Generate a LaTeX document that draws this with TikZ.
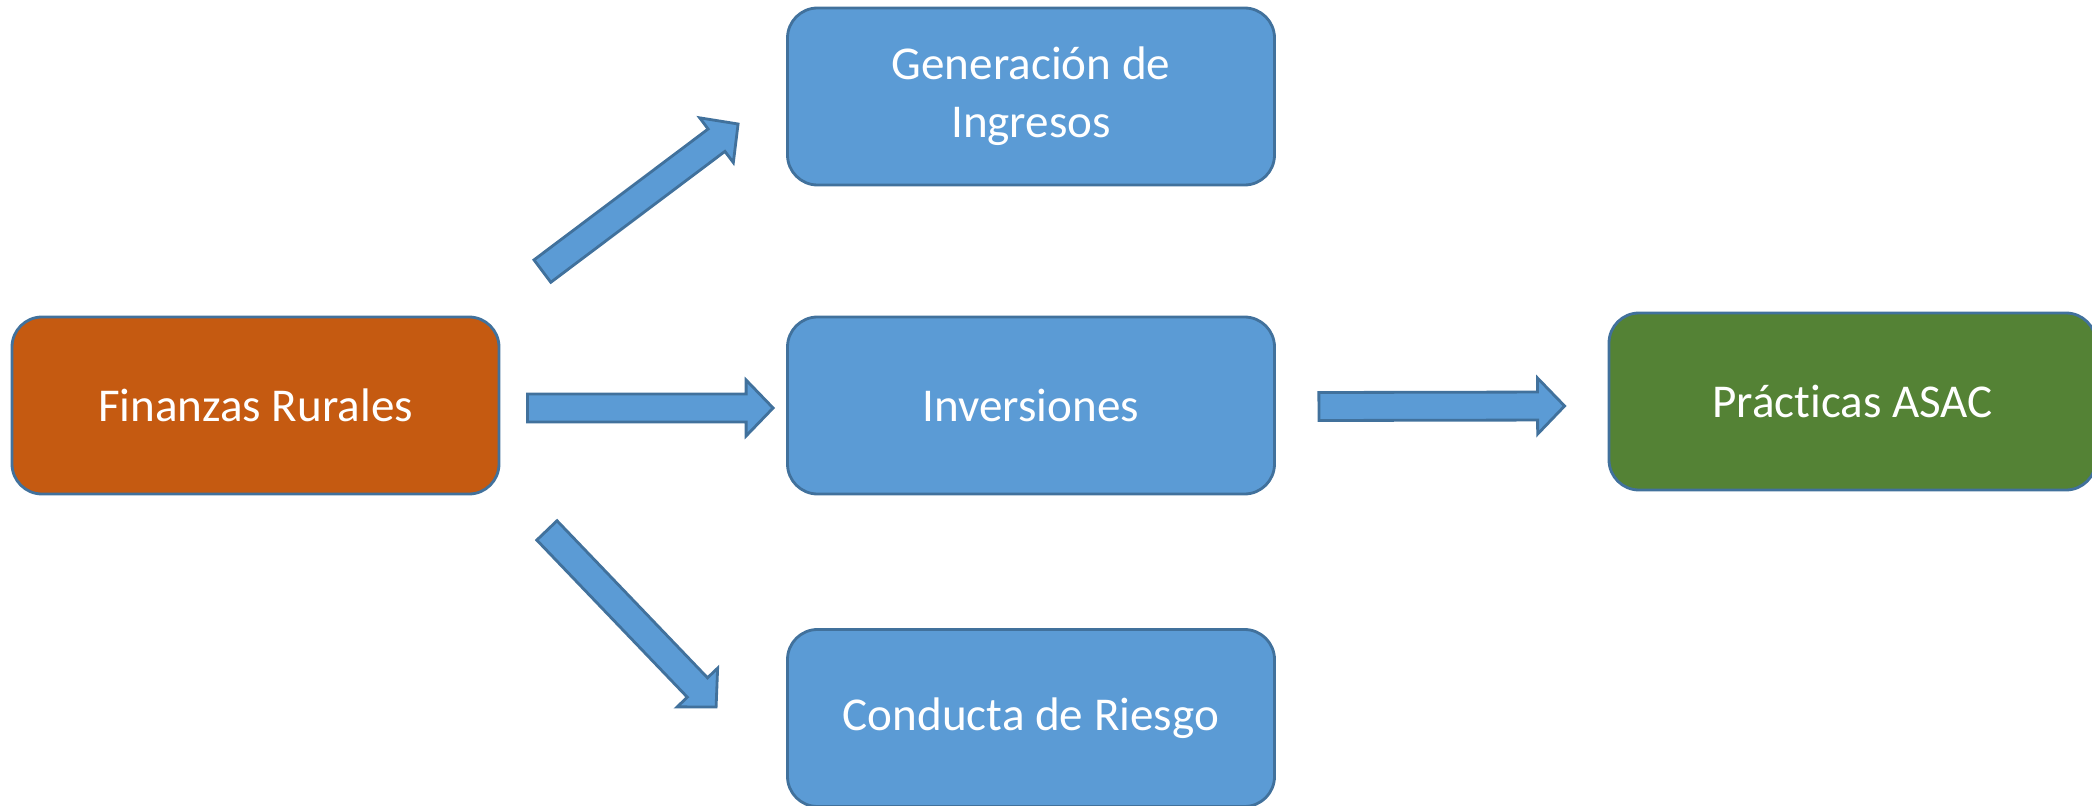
\documentclass[tikz,border=0pt]{standalone}
\usepackage{fontspec}
\setmainfont[Ligatures=CommonOff]{Carlito}
\usepackage{tikz}
\usetikzlibrary{calc}
\definecolor{orange1}{RGB}{197,90,17}
\definecolor{blue1}{RGB}{91,155,213}
\definecolor{green1}{RGB}{84,130,53}
\definecolor{line1}{RGB}{65,113,156}
\tikzset{
  box/.style={draw=line1, line width=0.8pt, rounded corners=0.3cm,
    minimum width=4.87cm, minimum height=1.77cm, inner sep=0pt,
    text=white, align=center, font=\fontsize{13.4}{16.5}\selectfont},
  blockarrow/.style={draw=line1, fill=blue1, line width=0.8pt, line join=miter}
}
% block arrow from tail #1 to tip #2
\newcommand{\fatarrow}[2]{%
  \coordinate (hb) at ($(#2)!0.27cm!(#1)$);
  \draw [blockarrow] ($(#1)!0.14cm!90:(#2)$) -- ($(hb)!0.14cm!90:(#2)$)
    -- ($(hb)!0.28cm!90:(#2)$) -- (#2) -- ($(hb)!0.28cm!-90:(#2)$)
    -- ($(hb)!0.14cm!-90:(#2)$) -- ($(#1)!0.14cm!-90:(#2)$) -- cycle;
}

\begin{document}
\begin{tikzpicture}
      \useasboundingbox (0,0) rectangle (20.92,8.05);

      \node [box, fill=orange1] (finanzas) at (2.555,3.995) {Finanzas Rurales};
      \node [box, fill=blue1] (ingresos) at (10.31,7.085) {Generación de\\Ingresos};
      \node [box, fill=blue1] (inversiones) at (10.31,3.995) {Inversiones};
      \node [box, fill=blue1] (riesgo) at (10.31,0.87) {Conducta de Riesgo};
      \node [box, fill=green1] (asac) at (18.525,4.035) {Prácticas ASAC};

      \coordinate (t1) at ($(finanzas.north east)+(0.42,0.445)$);
      \coordinate (h1) at ($(ingresos.west)+(-0.48,-0.275)$);
      \coordinate (t2) at ($(finanzas.east)+(0.27,-0.025)$);
      \coordinate (h2) at ($(inversiones.west)+(-0.13,-0.025)$);
      \coordinate (t3) at ($(finanzas.south east)+(0.465,-0.35)$);
      \coordinate (h3) at ($(riesgo.west)+(-0.70,0.11)$);
      \coordinate (t4) at ($(inversiones.east)+(0.43,-0.01)$);
      \coordinate (h4) at ($(asac.west)+(-0.43,-0.045)$);

      \fatarrow{t1}{h1}
      \fatarrow{t2}{h2}
      \fatarrow{t3}{h3}
      \fatarrow{t4}{h4}
    \end{tikzpicture}
\end{document}
